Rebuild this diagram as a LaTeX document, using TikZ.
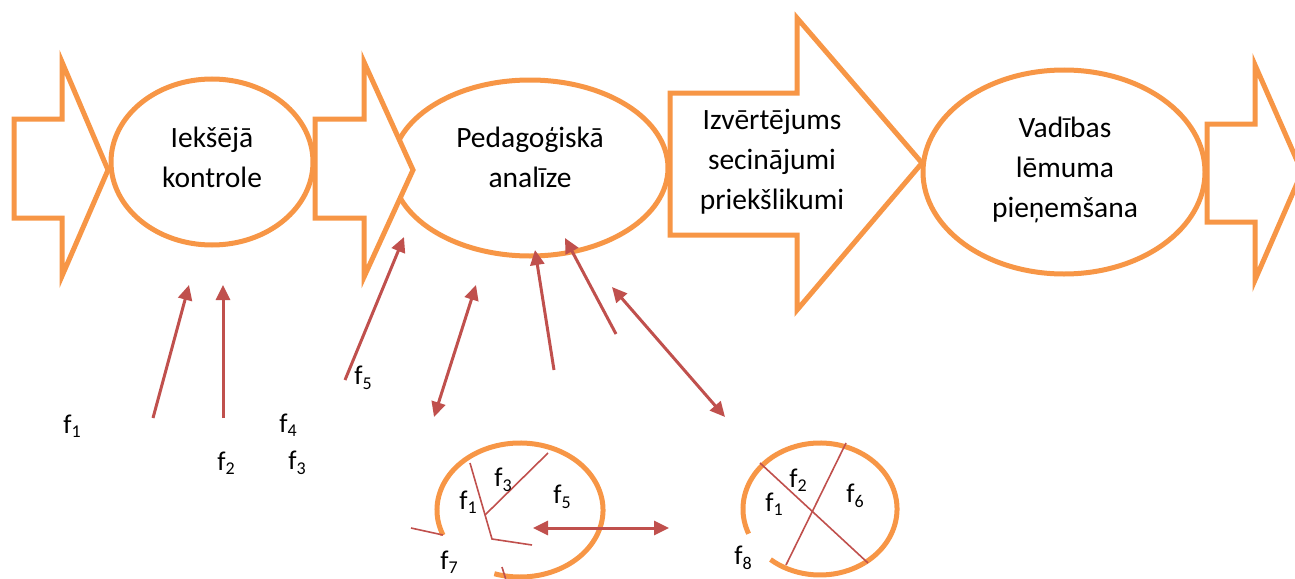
\documentclass[tikz,border=0pt]{standalone}
\usepackage{fontspec}
\setmainfont{Carlito}
\usetikzlibrary{arrows.meta}
\definecolor{orng}{HTML}{F79646}
\definecolor{rd}{HTML}{C0504D}
\newcommand\fl[1]{f\raisebox{-0.35ex}{\fontsize{18}{18}\selectfont #1}}
\tikzset{
  x=1pt, y=-1pt,
  obox/.style={draw=orng, line width=5pt, fill=white, line join=miter},
  oline/.style={draw=orng, line width=5pt},
  lbl/.style={font=\fontsize{29.5}{40}\selectfont, align=center, inner sep=0pt},
  flbl/.style={font=\fontsize{27}{30}\selectfont, inner sep=0pt},
  rarrow/.style={draw=rd, line width=3pt, -{Triangle[length=15pt,width=14pt]}},
  rdarrow/.style={draw=rd, line width=3pt, {Triangle[length=15pt,width=14pt]}-{Triangle[length=15pt,width=14pt]}},
  rthin/.style={draw=rd, line width=1.6pt},
}
\begin{document}
\begin{tikzpicture}
\useasboundingbox (0,0) rectangle (1295,578);
\clip (0,0) rectangle (1295,578);
% ellipses (under arrows)
\draw[obox] (212,162) ellipse[x radius=101, y radius=83];
\draw[obox] (530,168) ellipse[x radius=138, y radius=88];
\draw[obox] (1064,172) ellipse[x radius=141, y radius=102];
% block arrows
\draw[obox] (14,119) -- (62,119) -- (62,62) -- (108,170) -- (62,276) -- (62,218) -- (14,218) -- cycle;
\draw[obox] (315,119) -- (364,119) -- (364,62) -- (413,170) -- (364,277) -- (364,218) -- (315,218) -- cycle;
\draw[obox] (670,93) -- (797,93) -- (797,18) -- (922,163) -- (797,310) -- (797,235) -- (670,235) -- cycle;
\draw[obox] (1207,124) -- (1255,124) -- (1255,65) -- (1302,172) -- (1255,280) -- (1255,222) -- (1207,222) -- cycle;
% texts
\node[lbl] (t1) at (212,157) {Iekšējā\\kontrole};
\node[lbl] (t2) at (530,157) {Pedagoģiskā\\analīze};
\node[lbl] (t3) at (772,162) {Izvērtējums\\secinājumi\\priekšlikumi};
\node[lbl] (t4) at (1065,170) {Vadības\\lēmuma\\pieņemšana};
% free-end coordinates of red arrows
\coordinate (a1s) at (153,418); \coordinate (a1e) at (189,285);
\coordinate (a2s) at (223,418); \coordinate (a2e) at (223,285);
\coordinate (a3s) at (345,380); \coordinate (a3e) at (404,237);
\coordinate (a4s) at (434,417); \coordinate (a4e) at (476,285);
\coordinate (a5s) at (554,370); \coordinate (a5e) at (535,250);
\coordinate (a6s) at (616,334); \coordinate (a6e) at (565,238);
\coordinate (a7s) at (612,287); \coordinate (a7e) at (725,417);
\coordinate (a8s) at (533,528); \coordinate (a8e) at (669,528);
\draw[rarrow] (a1s) -- (a1e);
\draw[rarrow] (a2s) -- (a2e);
\draw[rarrow] (a3s) -- (a3e);
\draw[rdarrow] (a4s) -- (a4e);
\draw[rarrow] (a5s) -- (a5e);
\draw[rarrow] (a6s) -- (a6e);
\draw[rdarrow] (a7s) -- (a7e);
% lower labels
\node[flbl] (f1) at (72,426) {\fl{1}};
\node[flbl] (f2) at (226,463) {\fl{2}};
\node[flbl] (f4) at (288,425) {\fl{4}};
\node[flbl] (f3) at (297,463) {\fl{3}};
\node[flbl] (f5) at (363,378) {\fl{5}};
% lower ellipse A
\draw[oline] (520,510) ++(158:83 and 67) arc[start angle=158, end angle=468, x radius=83, y radius=67];
\coordinate (la1) at (470,463); \coordinate (la2) at (492,539);
\coordinate (lb1) at (485,515); \coordinate (lb2) at (548,453);
\coordinate (lc2) at (532,545);
\coordinate (ld1) at (411,528); \coordinate (ld2) at (443,535);
\coordinate (le1) at (502,567); \coordinate (le2) at (506,580);
\draw[rthin] (la1) -- (la2) -- (lc2);
\draw[rthin] (lb1) -- (lb2);
\draw[rthin] (ld1) -- (ld2);
\draw[rthin] (le1) -- (le2);
\draw[rdarrow] (a8s) -- (a8e);
\node[flbl] (fa3) at (503,480) {\fl{3}};
\node[flbl] (fa1) at (468,502) {\fl{1}};
\node[flbl] (fa5) at (562,497) {\fl{5}};
\node[flbl] (fa7) at (449,562) {\fl{7}};
% lower ellipse B
\draw[oline] (820,509) ++(158:77 and 66) arc[start angle=158, end angle=490, x radius=77, y radius=66];
\coordinate (lf1) at (760,463); \coordinate (lf2) at (868,563);
\coordinate (lg1) at (846,443); \coordinate (lg2) at (786,565);
\draw[rthin] (lf1) -- (lf2);
\draw[rthin] (lg1) -- (lg2);
\node[flbl] (fb2) at (798,480) {\fl{2}};
\node[flbl] (fb1) at (774,504) {\fl{1}};
\node[flbl] (fb6) at (855,496) {\fl{6}};
\node[flbl] (fb8) at (743,558) {\fl{8}};
\end{tikzpicture}
\end{document}
